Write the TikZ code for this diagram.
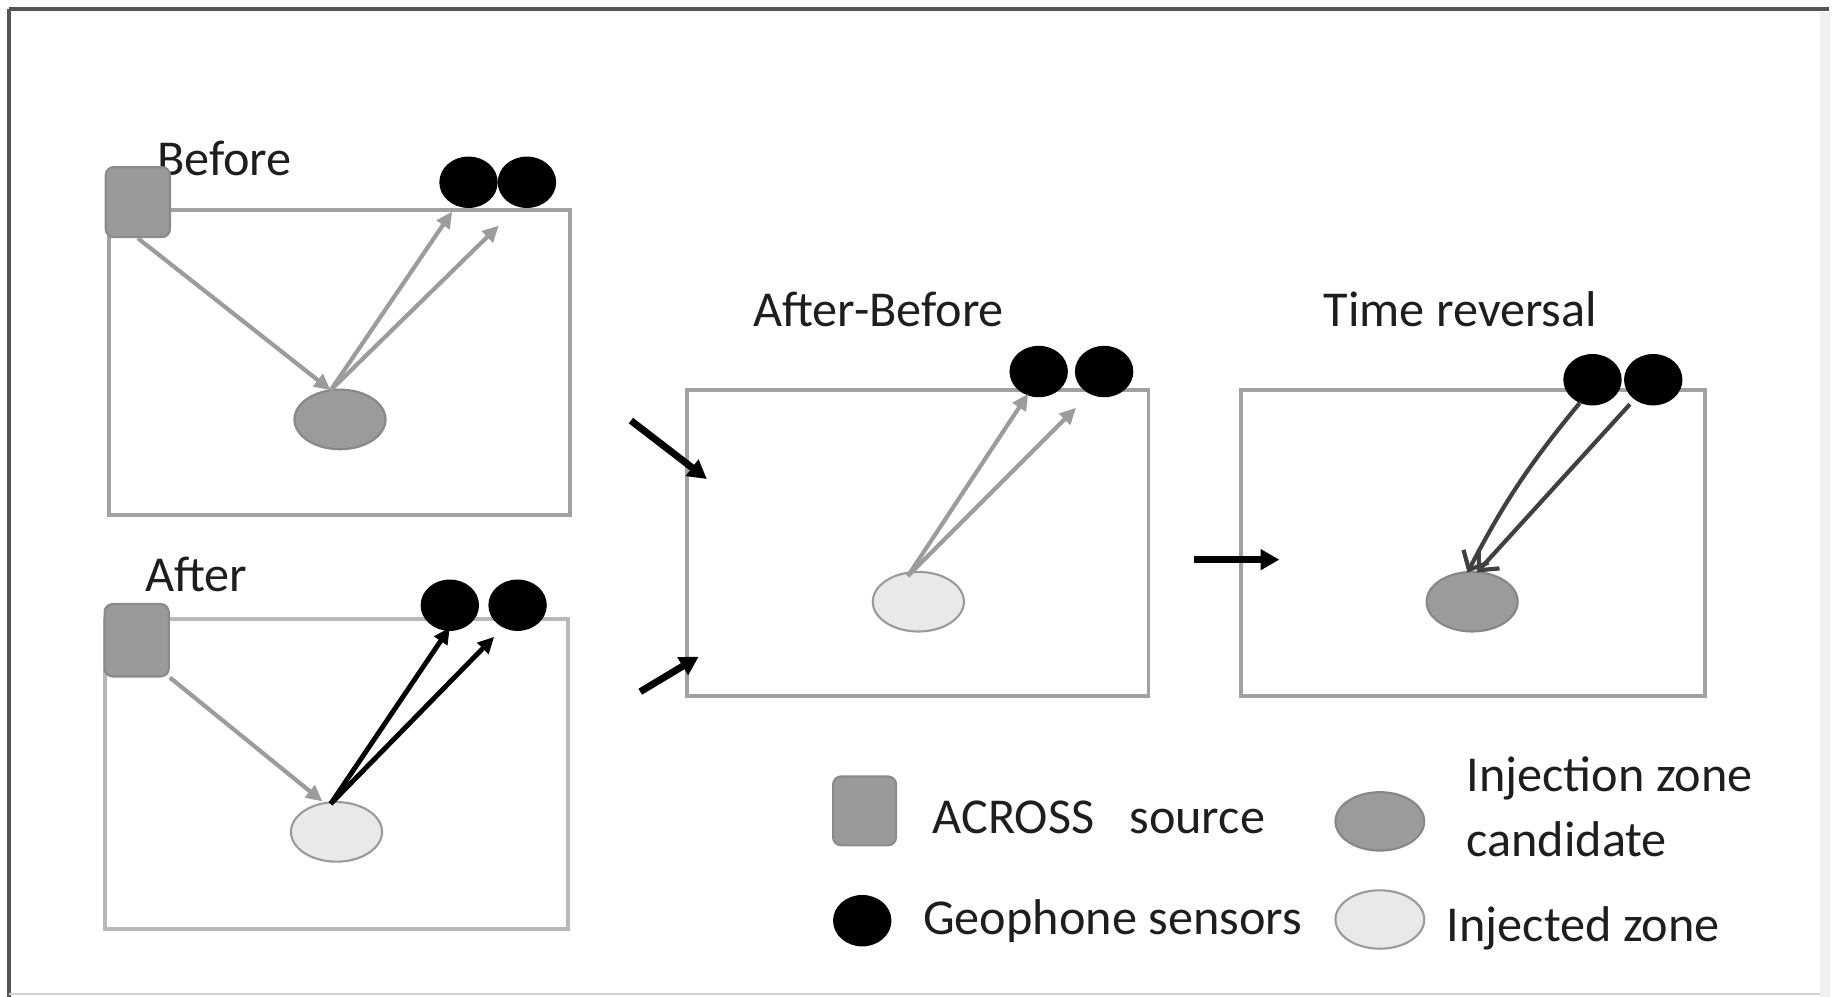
\documentclass[tikz,border=0pt]{standalone}
\usepackage{fontspec}
\setmainfont{Carlito}
\usetikzlibrary{arrows.meta,shapes.geometric}
\definecolor{panelgray}{HTML}{A2A2A2}
\definecolor{srcgray}{HTML}{9A9A9A}
\definecolor{srcedge}{HTML}{8A8A8A}
\definecolor{zonegray}{HTML}{9B9B9B}
\definecolor{zoneedge}{HTML}{878787}
\definecolor{zonelight}{HTML}{E9E9E9}
\definecolor{lightedge}{HTML}{9A9A9A}
\definecolor{raygray}{HTML}{9C9C9C}
\definecolor{raydark}{HTML}{404040}
\definecolor{framedark}{HTML}{555555}
\definecolor{textdark}{HTML}{1E1E1E}
\begin{document}
\begin{tikzpicture}[x=1pt,y=-1pt,
  panel/.style={draw=panelgray,line width=3.2pt},
  src/.style={draw=srcedge,fill=srcgray,line width=1.8pt,rounded corners=7pt,
    minimum width=55pt,minimum height=60pt,inner sep=0pt},
  sensor/.style={ellipse,fill=black,minimum width=50pt,minimum height=44pt,inner sep=0pt},
  cand/.style={ellipse,draw=zoneedge,fill=zonegray,line width=1.8pt,
    minimum width=78pt,minimum height=51pt,inner sep=0pt},
  injz/.style={ellipse,draw=lightedge,fill=zonelight,line width=1.8pt,
    minimum width=78pt,minimum height=51pt,inner sep=0pt},
  title/.style={text=textdark,font=\fontsize{43}{50}\selectfont,inner sep=0pt},
  legtext/.style={text=textdark,font=\fontsize{43}{50}\selectfont,inner sep=0pt,anchor=west},
  grayray/.style={draw=raygray,line width=3.6pt,-{Triangle[length=14pt,width=13pt]}},
  blackray/.style={draw=black,line width=4.2pt,-{Triangle[length=14pt,width=13pt]}},
  revray/.style={draw=raydark,line width=3.6pt,-{Straight Barb[length=13pt,width=24pt]}},
  flow/.style={draw=black,line width=6pt,-{Triangle[length=16pt,width=17pt]}}]
\useasboundingbox (0,0) rectangle (1568,853);

% outer frame
\draw[framedark,line width=3.5pt] (8,8) -- (1565,8);
\draw[framedark,line width=3.5pt] (8,8) -- (8,853);
\draw[black!18,line width=2pt] (8,851) -- (1562,851);
\fill[black!6] (1558,10) rectangle (1566,853);

% ---------- Before ----------
\draw[panel] (93,180) rectangle (488,441);
\node[title] (tb) at (192,136) {Before};
\node[src] (srcb) at (118,173) {};
\node[sensor] (sb1) at (401,156) {};
\node[sensor] (sb2) at (451,156) {};
\node[cand] (zb) at (291,359) {};
\coordinate (hb) at (283,334);
\coordinate (eb1) at (387,181);
\coordinate (eb2) at (427,193);
\draw[grayray] (srcb.south) -- (hb);
\draw[grayray] (hb) -- (eb1);
\draw[grayray] (hb) -- (eb2);

% ---------- After ----------
\draw[panel,draw=black!28] (90,530) rectangle (486,795);
\node[title] (ta) at (168,492) {After};
\node[src,minimum height=62pt] (srca) at (117,548) {};
\node[sensor] (sa1) at (385,518) {};
\node[sensor] (sa2) at (443,518) {};
\node[injz] (za) at (288,712) {};
\coordinate (ha) at (276,686);
\coordinate (ka) at (283,688);
\coordinate (ea1) at (385,537);
\coordinate (ea2) at (423,545);
\draw[grayray] (srca.south east) -- (ha);
\draw[blackray] (ka) -- (ea1);
\draw[blackray] (ka) -- (ea2);

% ---------- After-Before ----------
\draw[panel] (588,334) rectangle (983,596);
\node[title] (tab) at (752,265) {After-Before};
\node[sensor] (sd1) at (889,318) {};
\node[sensor] (sd2) at (945,318) {};
\node[injz] (zd) at (786,515) {};
\coordinate (hd) at (777,493);
\coordinate (ed1) at (880,337);
\coordinate (ed2) at (921,349);
\draw[grayray] (hd) -- (ed1);
\draw[grayray] (hd) -- (ed2);

% inputs to the difference
\coordinate (ib) at (540,360);
\coordinate (ibt) at (605,410);
\coordinate (ia) at (548,592);
\coordinate (iat) at (598,562);
\draw[flow] (ib) -- (ibt);
\draw[flow] (ia) -- (iat);

% ---------- Time reversal ----------
\draw[panel] (1062,334) rectangle (1459,596);
\node[title] (ttr) at (1250,265) {Time reversal};
\node[sensor] (st1) at (1363,325) {};
\node[sensor] (st2) at (1415,325) {};
\node[cand] (zt) at (1260,515) {};
\coordinate (rt1) at (1352,345);
\coordinate (rt2) at (1395,346);
\coordinate (et1) at (1256,490);
\coordinate (et2) at (1264,490);
\draw[revray] (rt1) to[bend right=6] (et1);
\draw[revray] (rt2) -- (et2);

\coordinate (fa) at (1022,479);
\coordinate (fb) at (1095,479);
\draw[flow] (fa) -- (fb);

% ---------- Legend ----------
\node[src,minimum width=54pt,minimum height=59pt] (lsrc) at (740,694) {};
\node[legtext] (lsrct) at (798,700) {ACROSS\hspace{0.7em}source};
\node[sensor] (lsen) at (738,788) {};
\node[legtext] (lsent) at (790,788) {Geophone sensors};
\node[cand,minimum width=76pt,minimum height=50pt] (lcand) at (1181,703) {};
\node[legtext] (lcandt1) at (1255,666) {Injection zone};
\node[legtext] (lcandt2) at (1255,718) {candidate};
\node[injz,minimum width=76pt,minimum height=50pt] (linj) at (1181,787) {};
\node[legtext] (linjt) at (1238,795) {Injected zone};
\end{tikzpicture}
\end{document}
